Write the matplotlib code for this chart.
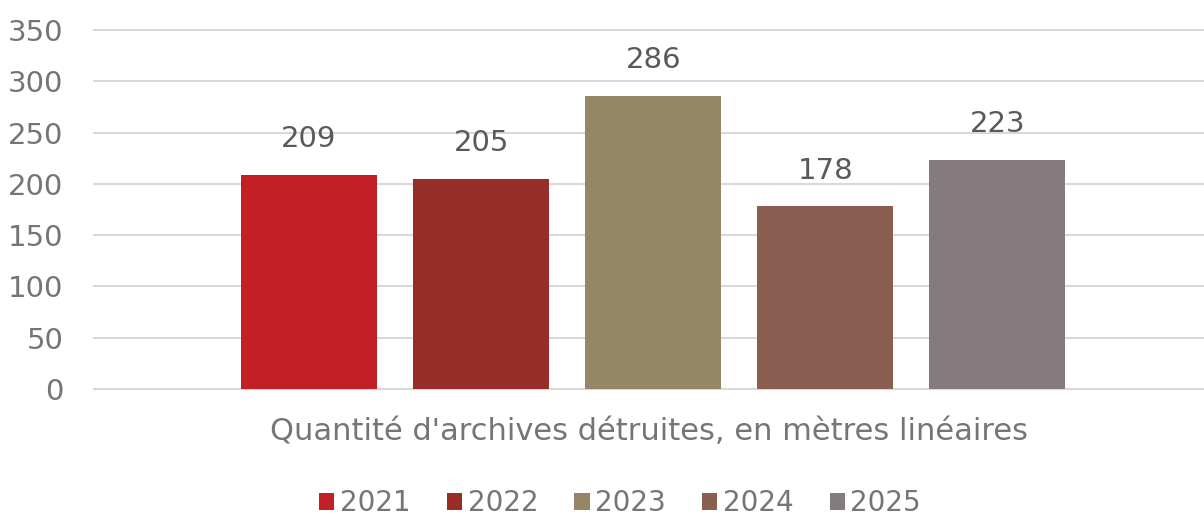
import matplotlib.pyplot as plt
from matplotlib.patches import Patch

years = ['2021', '2022', '2023', '2024', '2025']
metres = [209, 205, 286, 178, 223]
colours = ['#C32026', '#962D27', '#958766', '#8A5E51', '#857A7D']
category = "Quantité d'archives détruites, en mètres linéaires"
y_ticks = [0, 50, 100, 150, 200, 250, 300, 350]

plt.rcParams['font.family'] = ['DejaVu Sans Condensed', 'DejaVu Sans']

fig = plt.figure(figsize=(12.04, 5.17), dpi=100)
ax = fig.add_axes([0.078, 0.2476, 0.922, 0.6944])

positions = list(range(len(years)))
bars = ax.bar(positions, metres, width=0.79, color=colours, zorder=3)

for b, v in zip(bars, metres):
    ax.text(b.get_x() + b.get_width() / 2, v + 35, str(v), ha='center', va='center',
            fontsize=21, color='#595959')

ax.set_ylim(0, 350)
ax.set_xlim(-1.25, 5.2)
ax.set_yticks(y_ticks)
ax.grid(axis='y', color='#D9D9D9', linewidth=1.5, zorder=0)
for gl in ax.yaxis.get_gridlines():
    gl.set_clip_on(False)
for s in ax.spines.values():
    s.set_visible(False)
ax.axhline(0, color='#D9D9D9', linewidth=1.5, zorder=2, clip_on=False)
ax.tick_params(axis='y', length=0, pad=22, labelsize=21, labelcolor='#757575')
ax.set_xticks([])
ax.set_xlabel(category, fontsize=22, color='#757575', labelpad=20)

handles = [Patch(facecolor=c, label=y) for c, y in zip(colours, years)]
fig.legend(handles=handles, loc='center', bbox_to_anchor=(0.515, 0.027), ncol=5,
           frameon=False, fontsize=20, labelcolor='#757575', handlelength=0.55,
           handleheight=0.55, handletextpad=0.2, columnspacing=1.3)

fig.savefig('out.png', dpi=100)
